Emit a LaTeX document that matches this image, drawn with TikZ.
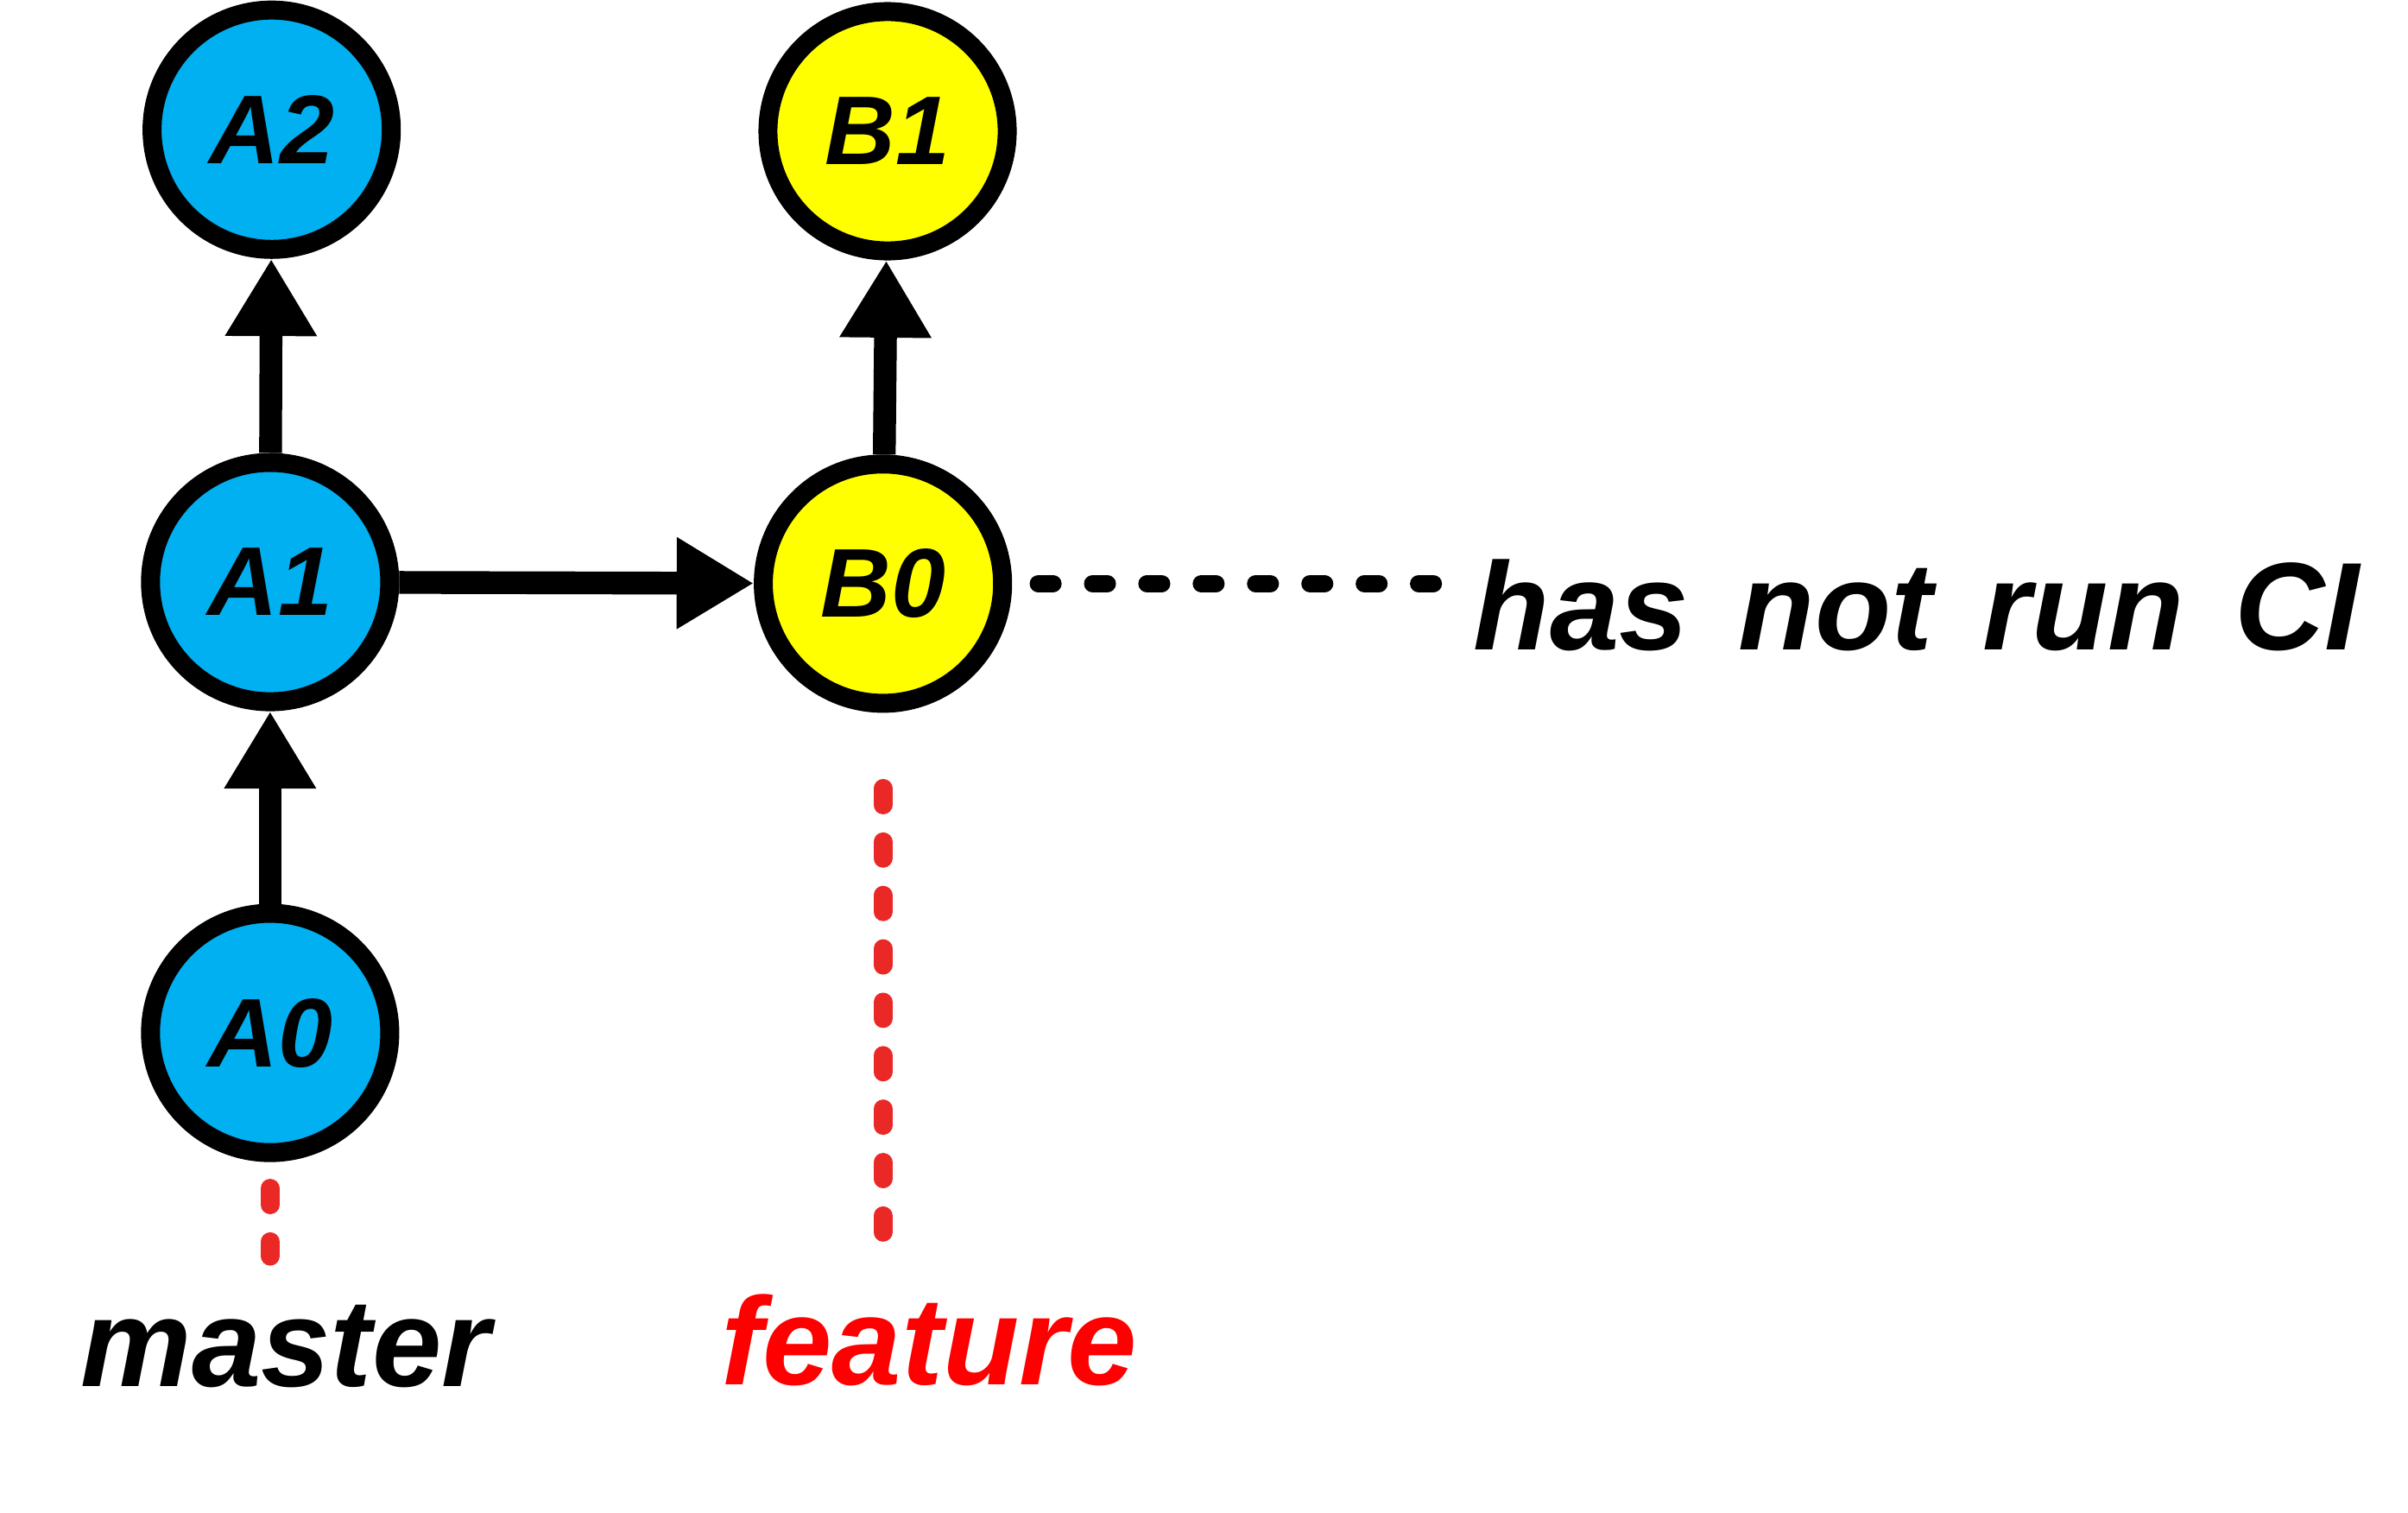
\documentclass[tikz,border=0pt]{standalone}
\usepackage{fontspec}
\setmainfont{Liberation Sans}
\newfontfamily\handfont{Liberation Sans}[WordSpace=1.45]
\usetikzlibrary{arrows.meta}
\definecolor{commitblue}{RGB}{0,176,240}
\definecolor{commityellow}{RGB}{255,255,0}
\definecolor{branchred}{RGB}{234,40,38}
\begin{document}
\begin{tikzpicture}[
        commit/.style = {circle, draw=black, line width=3.5pt, minimum size=1.55cm, inner sep=0pt, font=\fontsize{18}{20}\selectfont\bfseries\itshape},
        parent/.style = {-{Triangle[width=0.56cm, length=0.5cm]}, line width=4.2pt},
        branchline/.style = {branchred, line width=3.5pt, line cap=round, dash pattern=on 0.106cm off 0.24cm},
        cidots/.style = {line width=3.2pt, line cap=round, dash pattern=on 0.095cm off 0.257cm},
        tag/.style = {inner sep=0pt, anchor=base, font=\handfont\fontsize{23}{26}\selectfont\bfseries\itshape}
    ]
            \useasboundingbox (0,0) rectangle (15.6,-9.794);
            \node[commit, fill=commitblue] (A0) at (1.75,-6.69) {A0};
            \node[commit, fill=commitblue] (A1) at (1.75,-3.77) {A1};
            \node[commit, fill=commitblue] (A2) at (1.76,-0.84) {A2};
            \node[commit, fill=commityellow] (B0) at (5.72,-3.78) {B0};
            \node[commit, fill=commityellow] (B1) at (5.75,-0.85) {B1};
            \node[tag, anchor=base west] (ci) at (9.54,-4.21) {has not run CI};
            \node[tag] (master) at (1.85,-8.98) {master};
            \node[tag, text=red] (feature) at (6.02,-8.97) {feature};
            \draw[parent] (A0) -- (A1);
            \draw[parent] (A1) -- (A2);
            \draw[parent] (A1) -- (B0);
            \draw[parent] (B0) -- (B1);
            \draw[cidots, shorten <=0.17cm, shorten >=0.25cm] (B0) -- (ci.west |- B0);
            \draw[branchline, shorten <=0.17cm, shorten >=0.31cm] (A0.south) -- (A0.south |- master.north);
            \draw[branchline, shorten <=0.49cm, shorten >=0.36cm] (B0.south) -- (B0.south |- feature.north);
\end{tikzpicture}
\end{document}
